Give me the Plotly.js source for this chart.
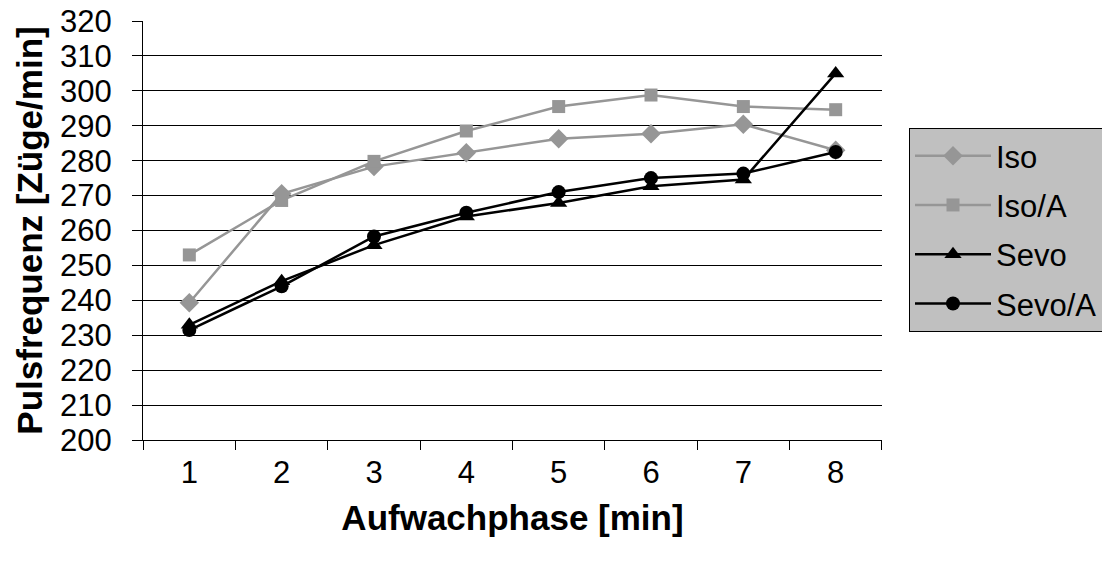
<!DOCTYPE html>
<html>
<head>
<meta charset="utf-8">
<script src="https://cdn.plot.ly/plotly-3.0.1.min.js"></script>
<style>
  html, body { margin: 0; padding: 0; background: #ffffff; }
  #chart { width: 1102px; height: 562px; }
</style>
</head>
<body>
<div id="chart"></div>
<script>
// Aufwachphase (Minuten)
const minutes = ['1', '2', '3', '4', '5', '6', '7', '8'];

// Pulsfrequenz [Züge/min] je Gruppe
const iso   = [239.3, 270.5, 278.3, 282.3, 286.3, 287.7, 290.4, 283.0];
const isoA  = [253.0, 268.6, 279.8, 288.5, 295.5, 298.8, 295.5, 294.6];
const sevo  = [233.0, 245.5, 255.8, 264.0, 267.9, 272.7, 274.6, 305.0];
const sevoA = [231.5, 244.0, 258.3, 265.1, 271.0, 275.0, 276.3, 282.5];

const seriesNames = ['Iso', 'Iso/A', 'Sevo', 'Sevo/A'];

const GRAY = '#969696';
const BLACK = '#000000';
const FONT = 'Liberation Sans, Arial, sans-serif';

function series(name, y, color, symbol, size, group) {
  return {
    type: 'scatter',
    mode: 'lines+markers',
    name: name,
    x: minutes,
    y: y,
    legendgroup: group,
    line: { color: color, width: 2.5 },
    marker: { color: color, symbol: symbol, size: size, line: { width: 0 } },
    cliponaxis: false
  };
}

const traces = [
  series(seriesNames[0], iso,   GRAY,  'diamond',     15, 'g1'),
  series(seriesNames[1], isoA,  GRAY,  'square',      13, 'g2'),
  series(seriesNames[2], sevo,  BLACK, 'triangle-up', 15, 'g3'),
  series(seriesNames[3], sevoA, BLACK, 'circle',      14, 'g4')
];

const layout = {
  width: 1102,
  height: 562,
  margin: { l: 143, r: 220, t: 21, b: 122, autoexpand: false },
  paper_bgcolor: '#ffffff',
  plot_bgcolor: '#ffffff',
  font: { family: FONT, size: 31, color: '#000000' },
  showlegend: true,
  legend: {
    xref: 'container', yref: 'container',
    x: 909 / 1102, y: 1 - 128 / 562, xanchor: 'left', yanchor: 'top',
    bgcolor: '#c0c0c0',
    bordercolor: '#000000',
    borderwidth: 1,
    font: { family: FONT, size: 31, color: '#000000' },
    traceorder: 'grouped',
    tracegroupgap: 6,
    itemwidth: 76
  },
  xaxis: {
    type: 'category',
    tickson: 'boundaries',
    ticks: 'outside',
    ticklen: 9,
    tickcolor: '#000000',
    showline: true,
    linecolor: '#000000',
    linewidth: 1,
    showgrid: false,
    zeroline: false,
    tickfont: { family: FONT, size: 31 },
    ticklabelstandoff: 5,
    automargin: false,
    title: { text: 'Aufwachphase [min]', font: { family: FONT, size: 35, weight: 'bold' }, standoff: 16 }
  },
  yaxis: {
    range: [200, 320],
    dtick: 10,
    tick0: 200,
    ticks: 'outside',
    ticklen: 10,
    tickcolor: '#000000',
    showline: true,
    linecolor: '#000000',
    linewidth: 1,
    showgrid: true,
    gridcolor: '#000000',
    gridwidth: 1,
    zeroline: false,
    tickfont: { family: FONT, size: 31 },
    ticklabelstandoff: 14,
    automargin: false,
    title: { text: 'Pulsfrequenz [Züge/min]', font: { family: FONT, size: 35, weight: 'bold' }, standoff: 6 }
  }
};

Plotly.newPlot('chart', traces, layout, { displayModeBar: false, staticPlot: true });
</script>
</body>
</html>
